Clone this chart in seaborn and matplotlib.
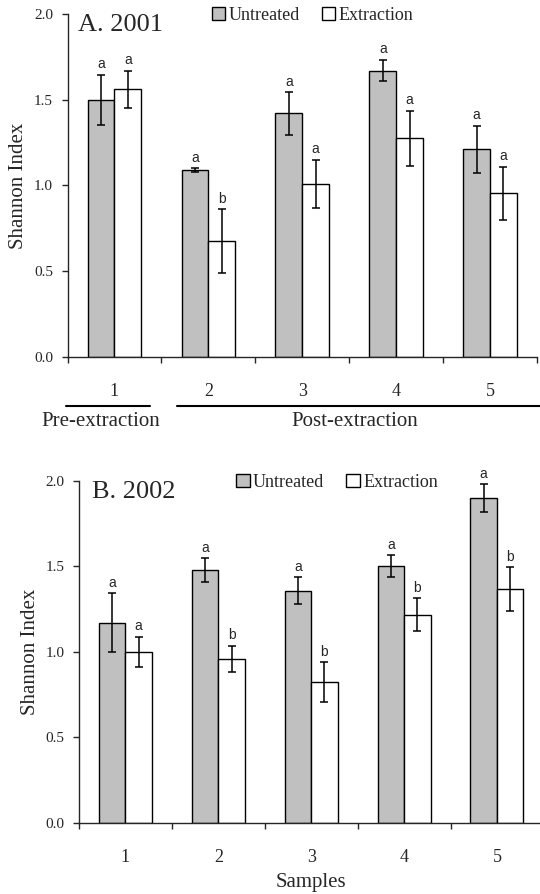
import matplotlib
matplotlib.use("Agg")

import matplotlib.pyplot as plt
import numpy as np
import pandas as pd
import seaborn as sns
from matplotlib.patches import Patch

# -------------------------------------------------------
# Data
# -------------------------------------------------------

samples = ["1", "2", "3", "4", "5"]
treatments = ["Untreated", "Extraction"]

untreated_2001 = [1.50, 1.09, 1.42, 1.67, 1.21]
untreated_2001_err = [0.145, 0.010, 0.125, 0.062, 0.137]
extraction_2001 = [1.56, 0.675, 1.01, 1.275, 0.955]
extraction_2001_err = [0.108, 0.187, 0.140, 0.160, 0.155]
untreated_2001_letters = ["a", "a", "a", "a", "a"]
extraction_2001_letters = ["a", "b", "a", "a", "a"]

untreated_2002 = [1.17, 1.475, 1.357, 1.50, 1.897]
untreated_2002_err = [0.172, 0.070, 0.077, 0.063, 0.080]
extraction_2002 = [1.00, 0.957, 0.821, 1.217, 1.367]
extraction_2002_err = [0.089, 0.078, 0.117, 0.095, 0.127]
untreated_2002_letters = ["a", "a", "a", "a", "a"]
extraction_2002_letters = ["a", "b", "b", "b", "b"]

y_ticks = [0.0, 0.5, 1.0, 1.5, 2.0]

# -------------------------------------------------------
# Global Configuration
# -------------------------------------------------------

sns.set_theme(style="ticks")
plt.rcParams["font.family"] = ["Liberation Serif", "DejaVu Serif"]
plt.rcParams["axes.linewidth"] = 1.0

BAR_COLORS = {"Untreated": "#c0c0c0", "Extraction": "white"}
SANS = ["Liberation Sans", "DejaVu Sans"]


def build_frame(untreated, extraction):
    return pd.DataFrame({
        "Sample": samples * 2,
        "Treatment": ["Untreated"] * len(samples) + ["Extraction"] * len(samples),
        "Shannon": list(untreated) + list(extraction),
    })


def draw_panel(ax, untreated, u_err, extraction, e_err, u_letters, e_letters,
               title, title_x, legend_x):
    df = build_frame(untreated, extraction)

    sns.barplot(
        data=df,
        x="Sample",
        y="Shannon",
        hue="Treatment",
        order=samples,
        hue_order=treatments,
        palette=BAR_COLORS,
        saturation=1,
        width=0.57,
        edgecolor="black",
        linewidth=1.0,
        errorbar=None,
        legend=False,
        ax=ax
    )

    series = {
        "Untreated": (untreated, u_err, u_letters),
        "Extraction": (extraction, e_err, e_letters),
    }

    for container, name in zip(ax.containers, treatments):
        values, errors, letters = series[name]
        xs = [bar.get_x() + bar.get_width() / 2 for bar in container]
        ax.errorbar(
            xs, values, yerr=errors,
            fmt="none", ecolor="black",
            elinewidth=1.1, capsize=2.6, capthick=1.1
        )
        for x, v, e, letter in zip(xs, values, errors, letters):
            ax.annotate(
                letter, (x, v + e),
                xytext=(0, 2.5), textcoords="offset points",
                ha="center", va="bottom",
                fontsize=10, family=SANS
            )

    ax.set_ylim(0, 2.0)
    ax.set_yticks(y_ticks)
    ax.set_yticklabels([f"{t:.1f}" for t in y_ticks], fontsize=11)
    ax.set_ylabel("Shannon Index", fontsize=15, labelpad=4)

    # category labels without marks, boundary ticks as minor marks
    ax.set_xticks(range(len(samples)))
    ax.set_xticklabels(samples, fontsize=13)
    ax.set_xticks(np.arange(-0.5, len(samples), 1.0), minor=True)
    ax.tick_params(axis="x", which="major", length=0, pad=19)
    ax.tick_params(axis="x", which="minor", length=4, width=1.0, direction="out")
    ax.tick_params(axis="y", length=4, width=1.0, direction="out", pad=6.5)
    ax.set_xlim(-0.5, len(samples) - 0.5)
    ax.set_xlabel("")

    sns.despine(ax=ax)

    ax.text(title_x, 1.0, title, transform=ax.transAxes,
            ha="left", va="top", fontsize=19)

    handles = [
        Patch(facecolor=BAR_COLORS[t], edgecolor="black", linewidth=1.0, label=t)
        for t in treatments
    ]
    ax.legend(
        handles=handles, loc="upper left", bbox_to_anchor=(legend_x, 1.02),
        ncol=2, frameon=False, fontsize=13,
        handlelength=0.75, handleheight=0.75, handletextpad=0.2,
        columnspacing=1.2, borderpad=0, borderaxespad=0
    )


fig = plt.figure(figsize=(5.4, 8.94), dpi=100)

ax_a = fig.add_axes([0.125, 0.6007, 0.8694, 0.3837])
ax_b = fig.add_axes([0.1463, 0.0794, 0.860, 0.3831])

draw_panel(ax_a, untreated_2001, untreated_2001_err, extraction_2001, extraction_2001_err,
           untreated_2001_letters, extraction_2001_letters, "A. 2001", 0.023, 0.307)
draw_panel(ax_b, untreated_2002, untreated_2002_err, extraction_2002, extraction_2002_err,
           untreated_2002_letters, extraction_2002_letters, "B. 2002", 0.028, 0.338)

# period brackets under panel A
trans = ax_a.get_xaxis_transform()
ax_a.plot([-0.516, 0.379], [-0.143, -0.143], color="black", lw=1.5,
          transform=trans, clip_on=False)
ax_a.plot([0.661, 4.6], [-0.143, -0.143], color="black", lw=1.5,
          transform=trans, clip_on=False)
ax_a.text(-0.143, -0.2, "Pre-extraction", transform=trans,
          ha="center", va="baseline", fontsize=15)
ax_a.text(2.56, -0.2, "Post-extraction", transform=trans,
          ha="center", va="baseline", fontsize=15)

ax_b.set_xlabel("Samples", fontsize=15, labelpad=5)

fig.savefig("out.png", dpi=100)
plt.close(fig)
